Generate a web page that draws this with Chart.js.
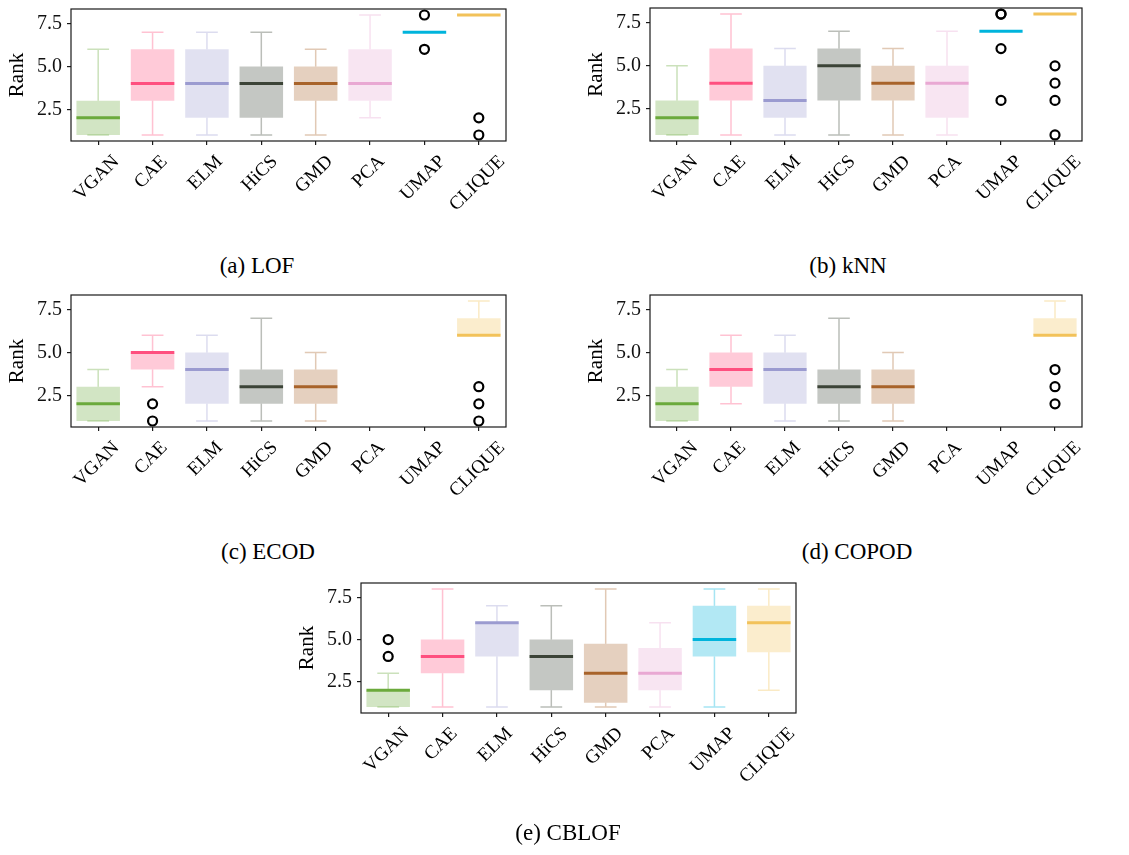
<!DOCTYPE html>
<html><head><meta charset="utf-8">
<script src="https://cdn.jsdelivr.net/npm/chart.js@4.4.1/dist/chart.umd.min.js"></script>
<style>
html,body{margin:0;padding:0;background:#fff;}
body{width:1129px;height:855px;position:relative;overflow:hidden;font-family:"Liberation Serif",serif;}
canvas{position:absolute;}
.cap{position:absolute;font-size:23px;line-height:24px;height:24px;width:300px;text-align:center;color:#000;white-space:nowrap;font-family:"Liberation Serif",serif;}
</style></head><body>
<script>
// ---------------- data ----------------
const categories = ['VGAN','CAE','ELM','HiCS','GMD','PCA','UMAP','CLIQUE'];
const yTickValues = [2.5, 5.0, 7.5];
const baseColors = ['#6BAA3C','#FF4F7F','#9B9BD0','#3C4437','#A8632A','#E9A8D3','#00B4DC','#F2C25A'];

// (a) LOF
const lofMin = [1,1,1,1,1,2,7,8];
const lofQ1  = [1,3,2,2,3,3,7,8];
const lofMed = [2,4,4,4,4,4,7,8];
const lofQ3  = [3,6,6,5,5,6,7,8];
const lofMax = [6,7,7,7,6,8,7,8];
const lofOut = [['UMAP',8],['UMAP',6],['CLIQUE',2],['CLIQUE',1]];

// (b) kNN
const knnMin = [1,1,1,1,1,1,7,8];
const knnQ1  = [1,3,2,3,3,2,7,8];
const knnMed = [2,4,3,5,4,4,7,8];
const knnQ3  = [3,6,5,6,5,5,7,8];
const knnMax = [5,8,6,7,6,7,7,8];
const knnOut = [['UMAP',8],['UMAP',8],['UMAP',6],['UMAP',3],['CLIQUE',5],['CLIQUE',4],['CLIQUE',3],['CLIQUE',1]];

// (c) ECOD
const ecodMin = [1,3,1,1,1,null,null,6];
const ecodQ1  = [1,4,2,2,2,null,null,6];
const ecodMed = [2,5,4,3,3,null,null,6];
const ecodQ3  = [3,5,5,4,4,null,null,7];
const ecodMax = [4,6,6,7,5,null,null,8];
const ecodOut = [['CAE',2],['CAE',1],['CLIQUE',3],['CLIQUE',2],['CLIQUE',1]];

// (d) COPOD
const copodMin = [1,2,1,1,1,null,null,6];
const copodQ1  = [1,3,2,2,2,null,null,6];
const copodMed = [2,4,4,3,3,null,null,6];
const copodQ3  = [3,5,5,4,4,null,null,7];
const copodMax = [4,6,6,7,5,null,null,8];
const copodOut = [['CLIQUE',4],['CLIQUE',3],['CLIQUE',2]];

// (e) CBLOF
const cblofMin = [1,1,1,1,1,1,1,2];
const cblofQ1  = [1,3,4,2,1.25,2,4,4.25];
const cblofMed = [2,4,6,4,3,3,5,6];
const cblofQ3  = [2,5,6,5,4.75,4.5,7,7];
const cblofMax = [3,8,7,7,8,6,8,8];
const cblofOut = [['VGAN',5],['VGAN',4]];

// ---------------- drawing ----------------
const FONT = '"Liberation Serif", "Times New Roman", serif';
function rgba(hex, a){
  const n = parseInt(hex.slice(1),16);
  return `rgba(${(n>>16)&255},${(n>>8)&255},${n&255},${a})`;
}
const Y_AXIS_W = 71, PAD_TOP = 20, PAD_RIGHT = 16, X_AXIS_H = 110;

function makePanel(pos, st, outliers, caption, cap){
  const cv = document.createElement('canvas');
  const w = Y_AXIS_W + (pos.R - pos.L) + PAD_RIGHT;
  const h = PAD_TOP + (pos.B - pos.T) + X_AXIS_H;
  cv.width = w; cv.height = h;
  cv.style.left = (pos.L - Y_AXIS_W) + 'px';
  cv.style.top = (pos.T - PAD_TOP) + 'px';
  cv.style.width = w + 'px'; cv.style.height = h + 'px';
  document.body.appendChild(cv);

  const boxes = st.q1.map((v,i)=> v==null ? null : [v, st.q3[i]]);
  const pts = outliers.map(o=>({x:o[0], y:o[1]}));

  const plugin = {
    id:'boxExtras',
    beforeDatasetsDraw(chart){
      const xs=chart.scales.x, ys=chart.scales.y, ctx=chart.ctx;
      const step = xs.getPixelForValue(1)-xs.getPixelForValue(0);
      const capHalf = step*0.8/4;
      ctx.save();
      ctx.lineWidth = 1.5;
      categories.forEach((c,i)=>{
        if (st.min[i]==null) return;
        const x = xs.getPixelForValue(i);
        ctx.strokeStyle = rgba(baseColors[i],0.35);
        ctx.beginPath();
        ctx.moveTo(x, ys.getPixelForValue(st.q1[i])); ctx.lineTo(x, ys.getPixelForValue(st.min[i]));
        ctx.moveTo(x, ys.getPixelForValue(st.q3[i])); ctx.lineTo(x, ys.getPixelForValue(st.max[i]));
        const yMin = ys.getPixelForValue(st.min[i]), yMax = ys.getPixelForValue(st.max[i]);
        ctx.moveTo(x-capHalf, yMin); ctx.lineTo(x+capHalf, yMin);
        ctx.moveTo(x-capHalf, yMax); ctx.lineTo(x+capHalf, yMax);
        ctx.stroke();
      });
      ctx.restore();
    },
    afterDatasetsDraw(chart){
      const xs=chart.scales.x, ys=chart.scales.y, ctx=chart.ctx;
      const step = xs.getPixelForValue(1)-xs.getPixelForValue(0);
      const half = step*0.8/2;
      ctx.save();
      ctx.lineWidth = 3;
      categories.forEach((c,i)=>{
        if (st.med[i]==null) return;
        const x = xs.getPixelForValue(i), y = ys.getPixelForValue(st.med[i]);
        ctx.strokeStyle = baseColors[i];
        ctx.beginPath(); ctx.moveTo(x-half, y); ctx.lineTo(x+half, y); ctx.stroke();
      });
      ctx.restore();
    },
    afterDraw(chart){
      const xs=chart.scales.x, ctx=chart.ctx, a=chart.chartArea;
      ctx.save();
      ctx.strokeStyle = '#1a1a1a'; ctx.lineWidth = 1.2;
      ctx.strokeRect(a.left, a.top, a.right-a.left, a.bottom-a.top);
      ctx.font = '19px ' + FONT;
      ctx.fillStyle = '#000';
      ctx.textAlign = 'center'; ctx.textBaseline = 'middle';
      const top = a.bottom + 12;
      categories.forEach((c,i)=>{
        const tw = ctx.measureText(c).width, th = 16;
        const x = xs.getPixelForValue(i) - 1.5;
        const y = top + (tw+th)*0.7071/2;
        ctx.save(); ctx.translate(x,y); ctx.rotate(-Math.PI/4); ctx.fillText(c,0,0); ctx.restore();
      });
      ctx.restore();
    }
  };

  new Chart(cv, {
    type:'bar',
    data:{labels:categories, datasets:[
      {type:'bar', data:boxes, backgroundColor:baseColors.map(c=>rgba(c,0.3)), borderWidth:0,
       barPercentage:0.8, categoryPercentage:1, grouped:false, order:2},
      {type:'line', data:pts, showLine:false, pointRadius:4.5, pointBorderWidth:2.2,
       pointBorderColor:'#000', pointBackgroundColor:'rgba(0,0,0,0)', borderColor:'#000', order:1}
    ]},
    options:{
      responsive:false, animation:false, events:[], devicePixelRatio:1,
      layout:{padding:{left:0, top:PAD_TOP, right:PAD_RIGHT, bottom:0}},
      plugins:{legend:{display:false}, tooltip:{enabled:false}},
      scales:{
        x:{type:'category', offset:true,
           grid:{display:true, offset:false, drawOnChartArea:false, drawTicks:true, tickLength:4, color:'#1a1a1a', lineWidth:1.2},
           border:{display:false}, ticks:{display:false},
           afterFit:s=>{s.height=X_AXIS_H;}},
        y:{min:0.65, max:8.35,
           afterBuildTicks:s=>{s.ticks = yTickValues.map(v=>({value:v}));},
           ticks:{callback:v=>Number(v).toFixed(1), font:{family:FONT, size:20}, color:'#111', padding:5},
           grid:{display:true, drawOnChartArea:false, drawTicks:true, tickLength:4, color:'#1a1a1a', lineWidth:1.2},
           border:{display:false},
           title:{display:true, text:'Rank', font:{family:FONT, size:21}, color:'#000', padding:{top:5,bottom:0}},
           afterFit:s=>{s.width=Y_AXIS_W;}}
      }
    },
    plugins:[plugin]
  });

  const d = document.createElement('div');
  d.className='cap'; d.textContent = caption;
  d.style.left = (cap[0]-150)+'px'; d.style.top = (cap[1]-12)+'px';
  document.body.appendChild(d);
}

makePanel({L:71,T:9,R:506,B:141},
  {min:lofMin,q1:lofQ1,med:lofMed,q3:lofQ3,max:lofMax}, lofOut, '(a) LOF', [257,266]);
makePanel({L:650,T:8,R:1082,B:141},
  {min:knnMin,q1:knnQ1,med:knnMed,q3:knnQ3,max:knnMax}, knnOut, '(b) kNN', [848,266]);
makePanel({L:71,T:295,R:506,B:427},
  {min:ecodMin,q1:ecodQ1,med:ecodMed,q3:ecodQ3,max:ecodMax}, ecodOut, '(c) ECOD', [268,552]);
makePanel({L:650,T:295,R:1082,B:427},
  {min:copodMin,q1:copodQ1,med:copodMed,q3:copodQ3,max:copodMax}, copodOut, '(d) COPOD', [857,552]);
makePanel({L:361,T:583,R:796,B:713},
  {min:cblofMin,q1:cblofQ1,med:cblofMed,q3:cblofQ3,max:cblofMax}, cblofOut, '(e) CBLOF', [568,833]);
</script>
</body></html>
